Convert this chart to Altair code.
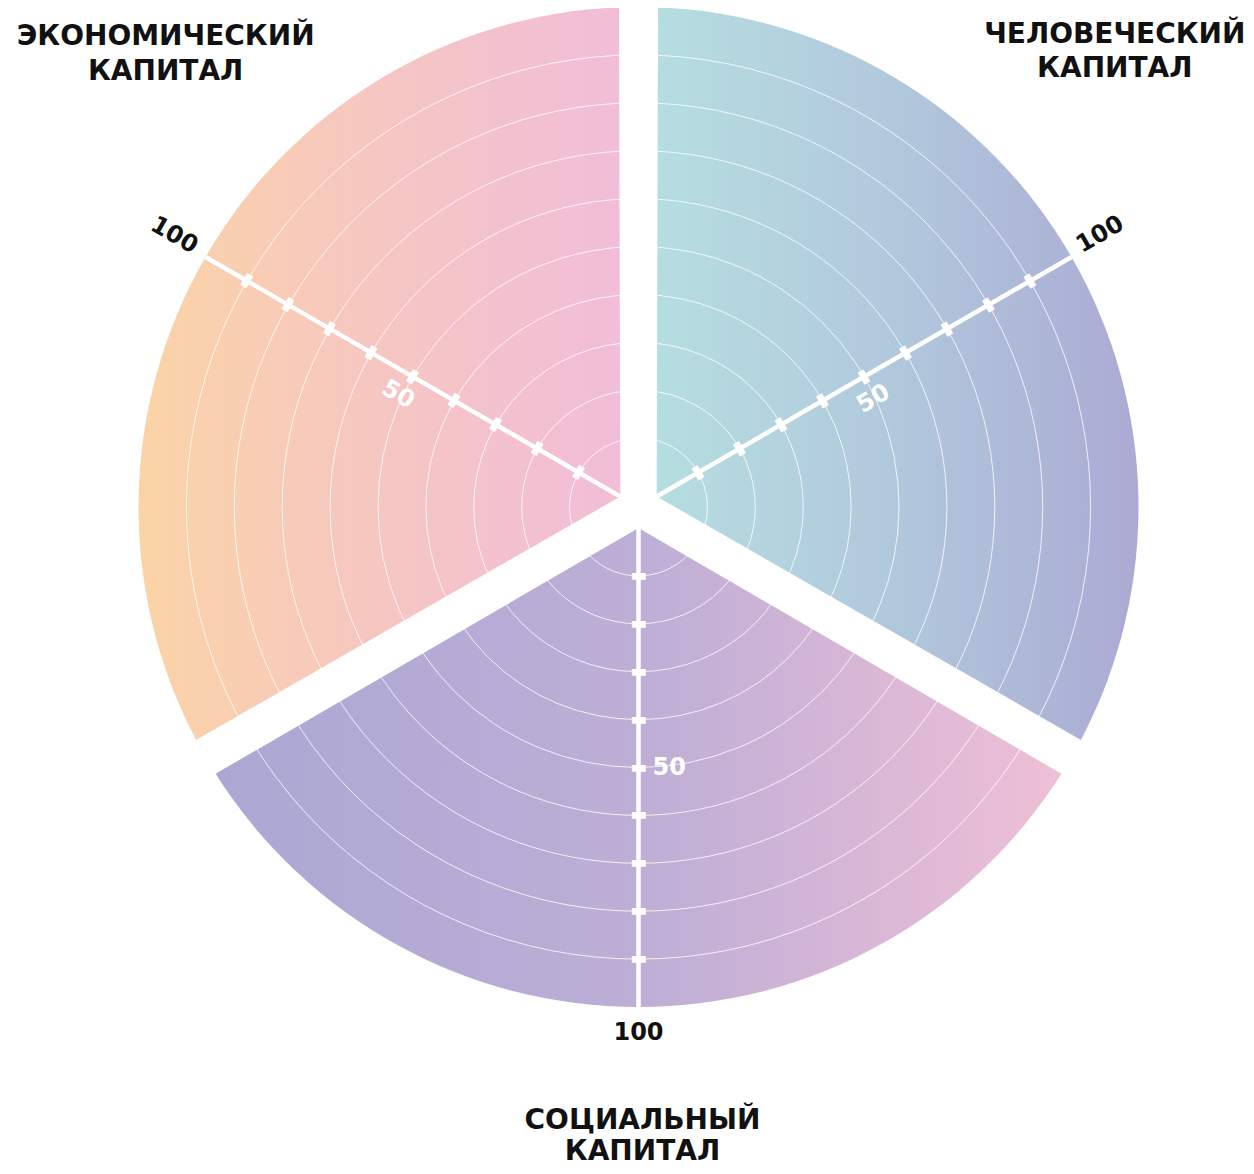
import altair as alt
import numpy as np
import pandas as pd

# ---------------- data ----------------
keys = ["human", "social", "economic"]
names = ["ЧЕЛОВЕЧЕСКИЙ\nКАПИТАЛ", "СОЦИАЛЬНЫЙ\nКАПИТАЛ", "ЭКОНОМИЧЕСКИЙ\nКАПИТАЛ"]
shares = [1, 1, 1]
scores = [100, 100, 100]
ring_values = [10, 20, 30, 40, 50, 60, 70, 80, 90]
tick_values = [10, 20, 30, 40, 50, 60, 70, 80, 90]
mid_label = 50
max_label = 100

cum = np.cumsum(shares).astype(float)
starts = cum - np.array(shares, dtype=float)
mids = starts + np.array(shares, dtype=float) / 2
total = float(cum[-1])

sectors = pd.DataFrame({"key": keys, "name": names, "share": shares, "score": scores,
                        "start": starts, "end": cum, "mid": mids})
rings = pd.DataFrame({"v": ring_values})
ticks = pd.DataFrame([{"key": k, "mid": m, "v": v} for k, m in zip(keys, mids) for v in tick_values])
labels = pd.DataFrame([{"key": k, "mid": m, "v": v, "txt": str(v)}
                       for k, m in zip(keys, mids) for v in (mid_label, max_label)])

# ---------------- style ----------------
CX, CY = 630.5, 499
FONT = "DejaVu Sans"
tscale = alt.Scale(domain=[0, total])
rscale = alt.Scale(type="linear", domain=[0, 100], range=[21, 500])
center = dict(x=alt.value(CX), y=alt.value(CY))


def grad(colors):
    n = len(colors)
    return {"gradient": "linear", "x1": 0, "y1": 0, "x2": 1, "y2": 0,
            "stops": [{"offset": i / (n - 1), "color": c} for i, c in enumerate(colors)]}


style = {
    "human": dict(colors=["#b5dee0", "#b1c8dc", "#abaad4"], label_angle=330, tick_angle=60,
                  mid_dx=-3, mid_dy=24, mid_align="center", max_dx=36, max_dy=-5,
                  title_r=550, title_dx=0, title_dy=-197, title_lh=34),
    "social": dict(colors=["#aaa8d3", "#bdaed6", "#efbfd6"], label_angle=0, tick_angle=0,
                   mid_dx=14, mid_dy=0, mid_align="left", max_dx=0, max_dy=26,
                   title_r=630, title_dx=4, title_dy=-16, title_lh=31),
    "economic": dict(colors=["#fad4a6", "#f6c6c2", "#f1bdd8"], label_angle=30, tick_angle=120,
                     mid_dx=-4, mid_dy=23, mid_align="center", max_dx=-38, max_dy=-3,
                     title_r=546, title_dx=0, title_dy=-197, title_lh=35),
}

theta_mid = alt.Theta("mid:Q", stack=None, scale=tscale)

sector_layers, axis_layers, tick_layers, label_layers, title_layers = [], [], [], [], []
for k in keys:
    st = style[k]
    sector_layers.append(
        alt.Chart(sectors).transform_filter(alt.datum.key == k)
        .mark_arc(padAngle=0.078, fill=grad(st["colors"]))
        .encode(theta=alt.Theta("start:Q", stack=None, scale=tscale), theta2=alt.Theta2("end"),
                radius=alt.Radius("score:Q", stack=None, scale=rscale),
                radius2=alt.Radius2Datum(0), **center)
    )
    axis_layers.append(
        alt.Chart(sectors).transform_filter(alt.datum.key == k)
        .mark_arc(fill="transparent", stroke="white", strokeWidth=4.5)
        .encode(theta=theta_mid, theta2=alt.Theta2("mid"),
                radius=alt.Radius("score:Q", stack=None, scale=rscale),
                radius2=alt.Radius2Datum(0), **center)
    )
    tick_layers.append(
        alt.Chart(ticks).transform_filter(alt.datum.key == k)
        .mark_text(text="▬", font=FONT, fontSize=18, color="white", align="center",
                   baseline="middle", angle=st["tick_angle"])
        .encode(theta=theta_mid, radius=alt.Radius("v:Q", stack=None, scale=rscale), **center)
    )
    label_layers.append(
        alt.Chart(labels).transform_filter((alt.datum.key == k) & (alt.datum.v == mid_label))
        .mark_text(font=FONT, fontWeight="bold", fontSize=24, color="white", align=st["mid_align"],
                   baseline="middle", angle=st["label_angle"], dx=st["mid_dx"], dy=st["mid_dy"])
        .encode(theta=theta_mid, radius=alt.Radius("v:Q", stack=None, scale=rscale),
                text="txt:N", **center)
    )
    label_layers.append(
        alt.Chart(labels).transform_filter((alt.datum.key == k) & (alt.datum.v == max_label))
        .mark_text(font=FONT, fontWeight="bold", fontSize=24, color="#111111", align="center",
                   baseline="middle", angle=st["label_angle"], dx=st["max_dx"], dy=st["max_dy"])
        .encode(theta=theta_mid, radius=alt.Radius("v:Q", stack=None, scale=rscale),
                text="txt:N", **center)
    )
    title_layers.append(
        alt.Chart(sectors).transform_filter(alt.datum.key == k)
        .mark_text(font=FONT, fontWeight="bold", fontSize=28, lineHeight=st["title_lh"],
                   lineBreak="\n", color="#111111", align="center", baseline="middle",
                   dx=st["title_dx"], dy=st["title_dy"])
        .encode(theta=theta_mid, radius=alt.value(st["title_r"]), text="name:N", **center)
    )

ring_layer = (
    alt.Chart(rings)
    .mark_arc(fill="transparent", stroke="white", strokeWidth=1, strokeOpacity=0.8)
    .encode(theta=alt.ThetaDatum(0, scale=tscale), theta2=alt.Theta2Datum(total),
            radius=alt.Radius("v:Q", stack=None, scale=rscale), radius2=alt.value(0), **center)
)

chart = alt.layer(
    *sector_layers, ring_layer, *axis_layers, *tick_layers, *label_layers, *title_layers
).properties(
    width=1238, height=1158, autosize=alt.AutoSizeParams(type="none"), padding=0,
    background="white",
).configure_view(stroke=None)

chart.save("out.html", embed_options={"renderer": "svg", "actions": False})
